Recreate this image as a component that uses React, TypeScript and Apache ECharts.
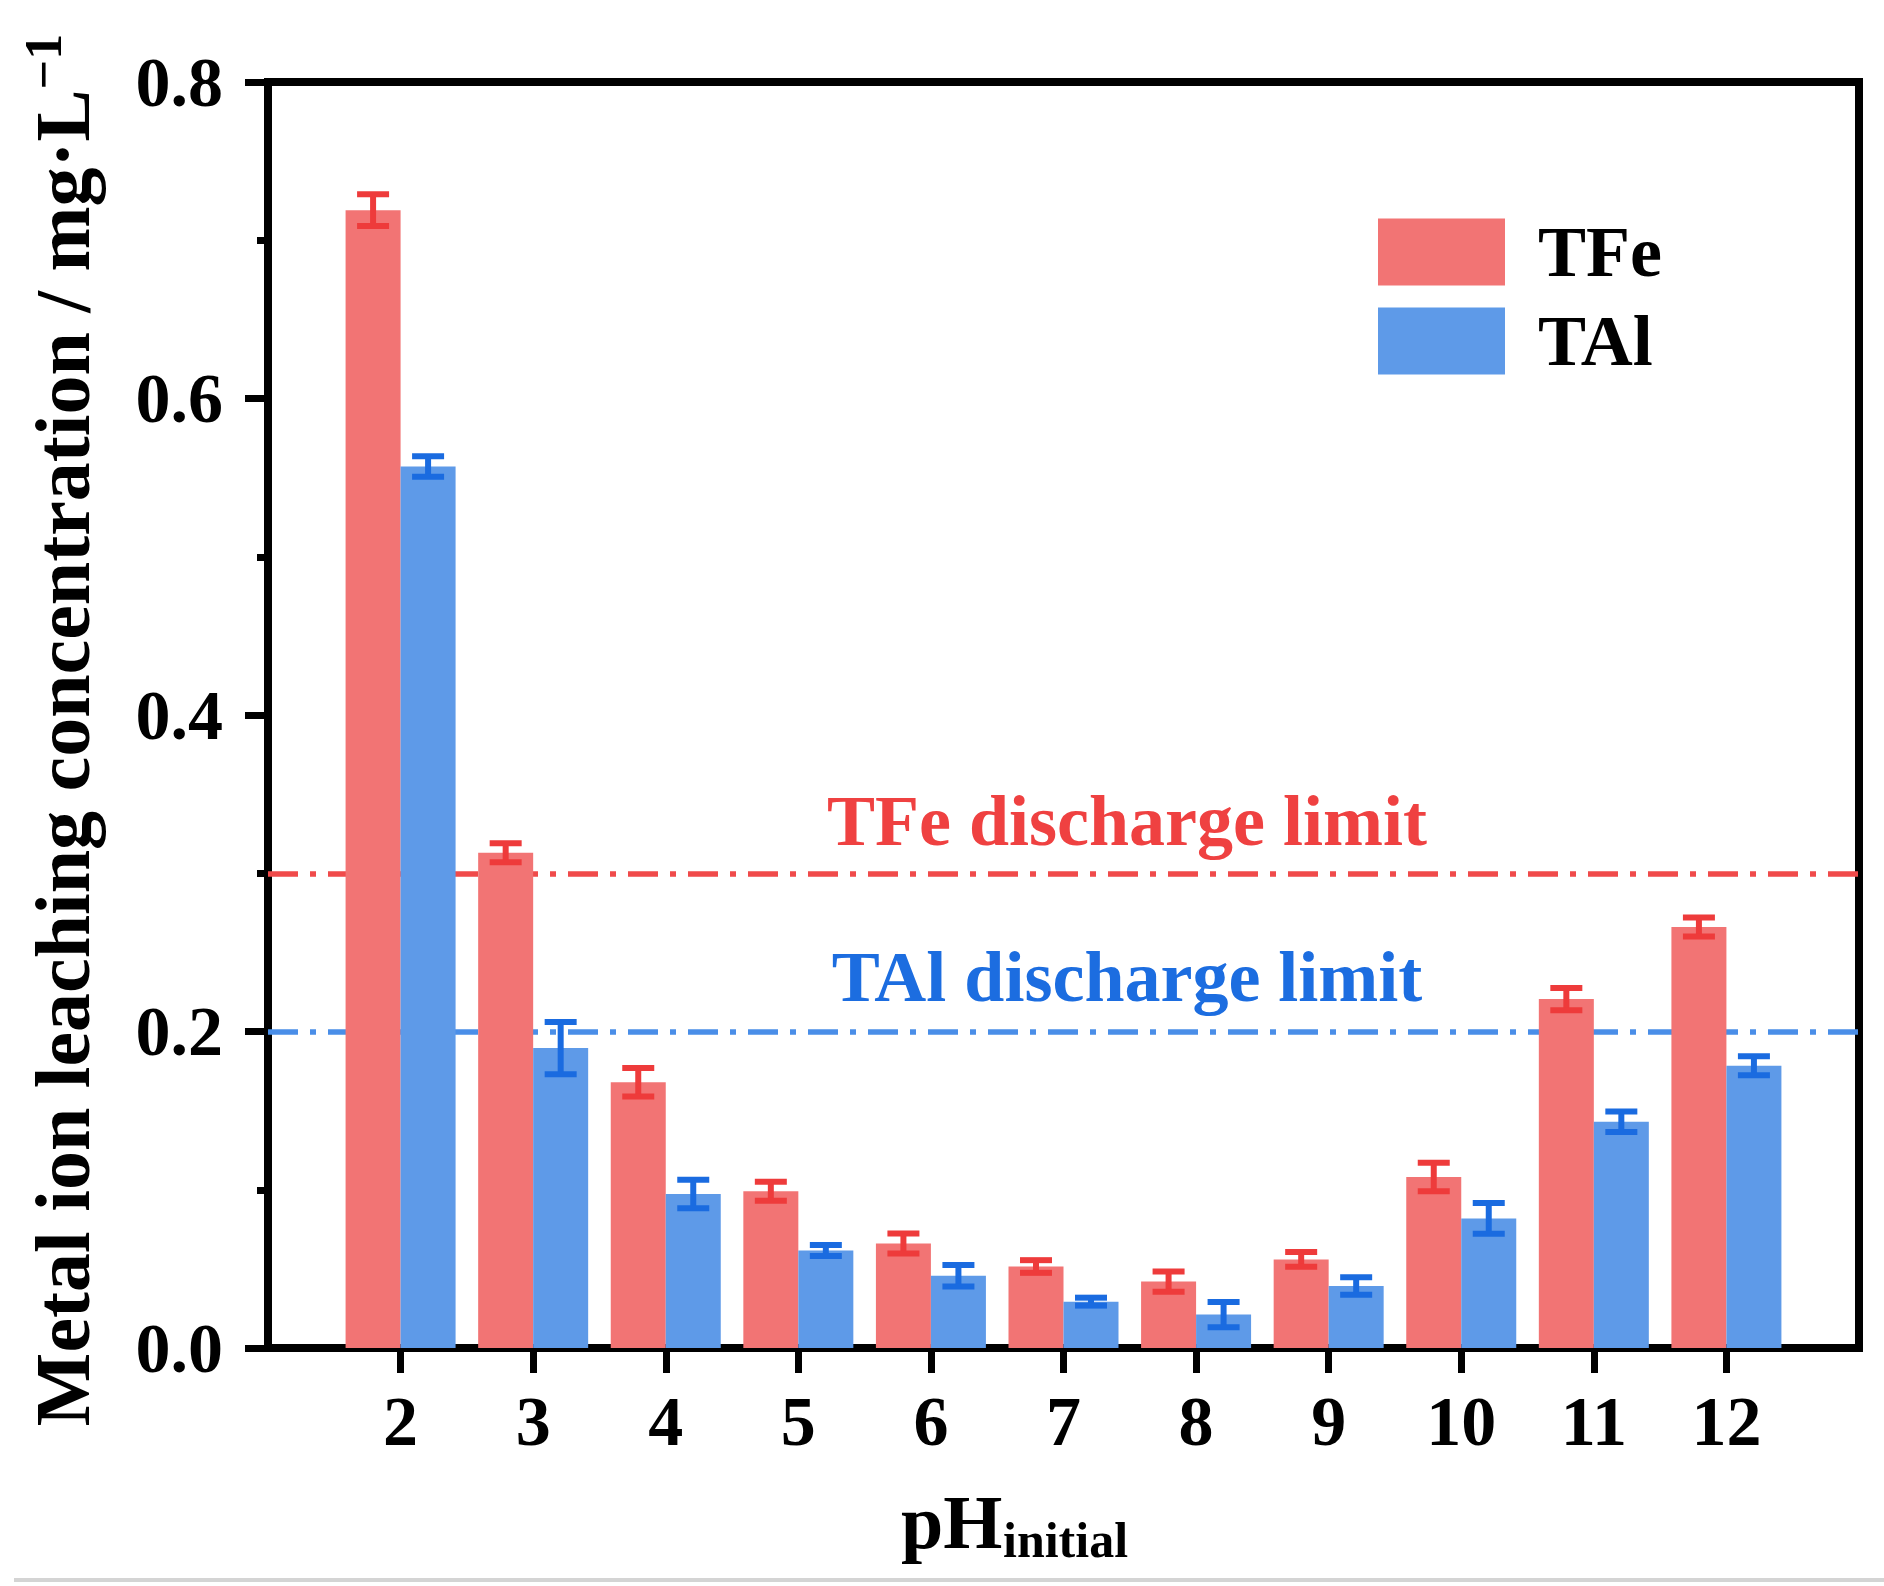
import React, { useEffect, useRef } from "react";
import * as echarts from "echarts";

const pHLabels = ["2", "3", "4", "5", "6", "7", "8", "9", "10", "11", "12"];
const tfe = [0.719, 0.313, 0.168, 0.099, 0.066, 0.0515, 0.042, 0.056, 0.108, 0.2205, 0.266];
const tfeErr = [0.01, 0.006, 0.009, 0.006, 0.0063, 0.004, 0.0064, 0.0047, 0.009, 0.007, 0.006];
const tal = [0.557, 0.1895, 0.0973, 0.0616, 0.0457, 0.0293, 0.0211, 0.0392, 0.0819, 0.143, 0.1784];
const talErr = [0.0065, 0.0165, 0.009, 0.0035, 0.0068, 0.0025, 0.008, 0.0055, 0.0097, 0.0065, 0.006];
const yTickLabels = ["0.0", "0.2", "0.4", "0.6", "0.8"];
const tfeLimit = 0.3;
const talLimit = 0.2;

const FONT = "'Liberation Serif', 'Times New Roman', serif";
const RED_BAR = "#F27474";
const BLUE_BAR = "#5E9AE8";
const RED_ERR = "#EE3B3B";
const BLUE_ERR = "#1A6BE0";
const RED_TXT = "#EF4141";
const BLUE_TXT = "#1C6DE0";
const BAR_W = 55;

function errSeries(name: string, vals: number[], errs: number[], color: string, offset: number) {
  return {
    type: "custom",
    name: name + " err",
    z: 4,
    silent: true,
    encode: { x: 0, y: [1, 2] },
    data: vals.map((v, i) => [i + 1, v - errs[i], v + errs[i]]),
    renderItem: (params: any, api: any) => {
      const x = api.value(0);
      const lo = api.coord([x, api.value(1)]);
      const hi = api.coord([x, api.value(2)]);
      const cx = lo[0] + offset;
      const half = 16;
      const style = { stroke: color, lineWidth: 6, fill: "none" };
      return {
        type: "group",
        children: [
          { type: "line", shape: { x1: cx, y1: lo[1], x2: cx, y2: hi[1] }, style },
          { type: "line", shape: { x1: cx - half, y1: lo[1], x2: cx + half, y2: lo[1] }, style },
          { type: "line", shape: { x1: cx - half, y1: hi[1], x2: cx + half, y2: hi[1] }, style },
        ],
      };
    },
  };
}

export default function App() {
  const ref = useRef<HTMLDivElement>(null);
  useEffect(() => {
    document.body.style.margin = "0";
    if (!ref.current) return;
    const chart = echarts.init(ref.current, undefined, { renderer: "svg" });
    const slots = ["1", ...pHLabels, "13"];
    const option: any = {
      animation: false,
      backgroundColor: "#ffffff",
      grid: {
        left: 268,
        top: 82,
        right: 25,
        bottom: 238,
        show: true,
        borderColor: "#000",
        borderWidth: 8,
        containLabel: false,
      },
      legend: {
        orient: "vertical",
        left: 1378,
        top: 216,
        padding: 0,
        itemWidth: 127,
        itemHeight: 67,
        itemGap: 17,
        icon: "rect",
        data: ["TFe", "TAl"],
        textStyle: {
          fontFamily: FONT,
          fontWeight: "bold",
          fontSize: 72,
          color: "#000",
          lineHeight: 67,
          padding: [0, 0, 0, 28],
        },
      },
      xAxis: {
        type: "category",
        data: slots,
        boundaryGap: false,
        axisLine: { show: true, lineStyle: { color: "#000", width: 8 } },
        axisTick: {
          show: true,
          inside: false,
          length: 25,
          lineStyle: { color: "#000", width: 7 },
          interval: (i: number) => i > 0 && i < slots.length - 1,
        },
        axisLabel: {
          interval: (i: number) => i > 0 && i < slots.length - 1,
          fontFamily: FONT,
          fontWeight: "bold",
          fontSize: 70,
          color: "#000",
          margin: 38,
        },
        splitLine: { show: false },
      },
      yAxis: {
        type: "value",
        min: 0,
        max: 0.8,
        interval: 0.2,
        name: "{a|Metal ion leaching concentration / mg·L}{b|−1}",
        nameLocation: "middle",
        nameGap: 161,
        nameTextStyle: {
          padding: [0, 30, 0, 0],
          rich: {
            a: { fontFamily: FONT, fontWeight: "bold", fontSize: 78, lineHeight: 90, color: "#000" },
            b: { fontFamily: FONT, fontWeight: "bold", fontSize: 52, lineHeight: 52, color: "#000", verticalAlign: "top" },
          },
        },
        axisLine: { show: true, lineStyle: { color: "#000", width: 8 } },
        axisTick: { show: true, inside: false, length: 23, lineStyle: { color: "#000", width: 7 } },
        minorTick: { show: true, splitNumber: 2, length: 11, lineStyle: { color: "#000", width: 7 } },
        axisLabel: {
          fontFamily: FONT,
          fontWeight: "bold",
          fontSize: 70,
          color: "#000",
          margin: 45,
          formatter: (v: number) => yTickLabels[Math.round(v / 0.2)],
        },
        splitLine: { show: false },
      },
      series: [
        {
          type: "bar",
          name: "TFe",
          z: 2,
          barWidth: BAR_W,
          barGap: "0%",
          itemStyle: { color: RED_BAR },
          data: tfe.map((v, i) => [i + 1, v]),
          markLine: {
            z: 1,
            silent: true,
            symbol: "none",
            label: { show: false },
            lineStyle: { color: "#F04A4A", width: 5.5, type: [30, 12, 6, 12] },
            data: [{ yAxis: tfeLimit }],
          },
        },
        {
          type: "bar",
          name: "TAl",
          z: 2,
          barWidth: BAR_W,
          barGap: "0%",
          itemStyle: { color: BLUE_BAR },
          data: tal.map((v, i) => [i + 1, v]),
          markLine: {
            z: 1,
            silent: true,
            symbol: "none",
            label: { show: false },
            lineStyle: { color: "#4A8EE8", width: 5.5, type: [30, 12, 6, 12] },
            data: [{ yAxis: talLimit }],
          },
        },
        errSeries("TFe", tfe, tfeErr, RED_ERR, -BAR_W / 2),
        errSeries("TAl", tal, talErr, BLUE_ERR, BAR_W / 2),
      ],
      graphic: [
        {
          type: "text",
          z: 10,
          style: {
            text: "TFe discharge limit",
            x: 1127,
            y: 821,
            fill: RED_TXT,
            font: `bold 72px ${FONT}`,
            align: "center",
            verticalAlign: "middle",
            textAlign: "center",
            textVerticalAlign: "middle",
          },
        },
        {
          type: "text",
          z: 10,
          style: {
            text: "TAl discharge limit",
            x: 1127,
            y: 977,
            fill: BLUE_TXT,
            font: `bold 72px ${FONT}`,
            align: "center",
            verticalAlign: "middle",
            textAlign: "center",
            textVerticalAlign: "middle",
          },
        },
        {
          type: "text",
          z: 10,
          style: {
            text: "pH",
            x: 901,
            y: 1522,
            fill: "#000",
            font: `bold 76px ${FONT}`,
            align: "left",
            verticalAlign: "middle",
            textAlign: "left",
            textVerticalAlign: "middle",
          },
        },
        {
          type: "text",
          z: 10,
          style: {
            text: "initial",
            x: 1003,
            y: 1540,
            fill: "#000",
            font: `bold 50px ${FONT}`,
            align: "left",
            verticalAlign: "middle",
            textAlign: "left",
            textVerticalAlign: "middle",
          },
        },
        {
          type: "rect",
          z: 10,
          shape: { x: 14, y: 1578, width: 1870, height: 4 },
          style: { fill: "#d4d4d4" },
        },
      ],
    };
    chart.setOption(option);
    return () => chart.dispose();
  }, []);
  return <div ref={ref} style={{ width: 1884, height: 1586 }} />;
}
